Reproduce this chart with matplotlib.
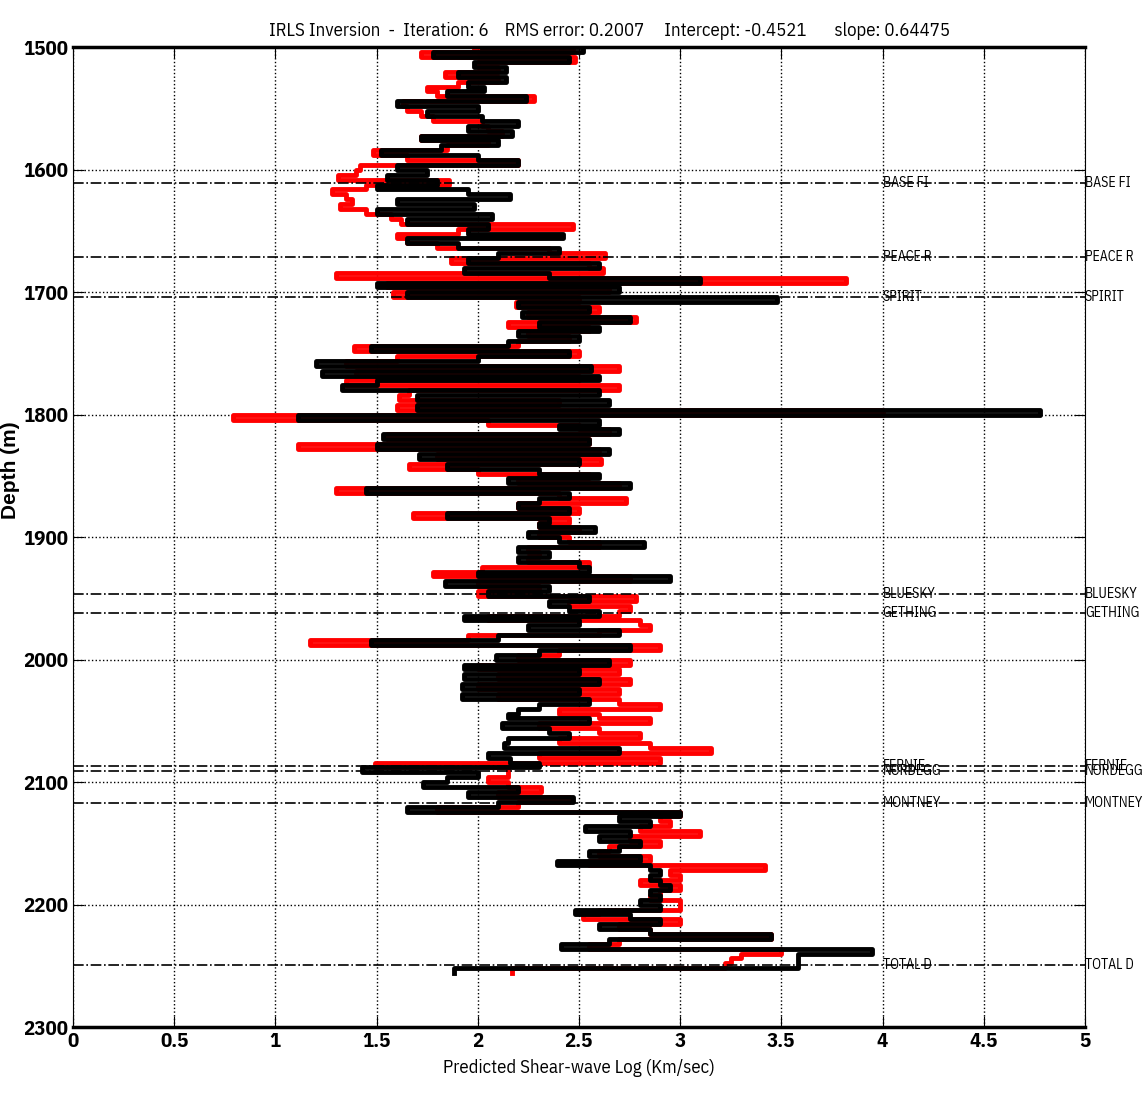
import matplotlib.pyplot as plt
import numpy as np

plt.rcParams['font.family'] = ['IBM Plex Sans Condensed', 'DejaVu Sans']

# Depth sampling (m), one sample every 4 m from 1500 to 2256
depth = np.arange(1500, 2257, 4)

# Black log (Km/sec)
vs_black = [
    2.02, 2.52, 1.78, 2.45, 1.98, 2.14, 1.90, 2.14, 1.95, 2.03,
    1.85, 2.24, 1.60, 2.00, 1.75, 2.02, 2.20, 1.95, 2.17, 1.72,
    2.10, 1.82, 1.52, 2.00, 2.20, 1.60, 1.75, 1.55, 1.80, 1.50,
    1.95, 2.16, 1.60, 1.98, 1.50, 2.07, 1.65, 2.05, 1.95, 2.42,
    1.65, 1.90, 2.40, 2.10, 1.95, 2.60, 1.93, 2.35, 3.10, 1.50,
    2.70, 1.65, 3.48, 2.20, 2.55, 2.22, 2.75, 2.30, 2.60, 2.20,
    2.50, 2.15, 1.47, 2.45, 2.00, 1.20, 2.56, 1.23, 2.60, 1.50,
    1.33, 2.60, 1.70, 2.65, 1.70, 4.78, 1.11, 2.60, 2.40, 2.70,
    1.53, 2.55, 1.50, 2.65, 1.71, 2.50, 1.85, 2.30, 2.60, 2.15,
    2.75, 1.45, 2.45, 2.30, 2.20, 2.45, 1.85, 2.35, 2.30, 2.58,
    2.25, 2.40, 2.82, 2.20, 2.35, 2.20, 2.50, 2.55, 2.00, 2.95,
    1.84, 2.35, 2.05, 2.55, 2.35, 2.45, 2.60, 1.93, 2.50, 2.25,
    2.70, 2.10, 1.47, 2.75, 2.30, 2.09, 2.65, 1.93, 2.50, 1.93,
    2.60, 1.92, 2.50, 1.92, 2.55, 2.30, 2.20, 2.15, 2.55, 2.12,
    2.35, 2.45, 2.15, 2.13, 2.70, 2.05, 2.16, 2.30, 1.43, 2.00,
    1.85, 1.73, 2.20, 1.95, 2.47, 2.10, 1.65, 3.00, 2.70, 2.85,
    2.53, 2.75, 2.60, 2.80, 2.70, 2.55, 2.80, 2.39, 2.85, 2.90,
    2.85, 2.90, 2.95, 2.85, 2.90, 2.80, 2.90, 2.48, 2.75, 2.90,
    2.60, 2.85, 3.45, 2.65, 2.41, 3.95, 3.58, 3.58, 3.58, 1.88,
]

# Red log (Km/sec)
vs_red = [
    1.98, 2.47, 1.72, 2.48, 2.00, 2.10, 1.84, 2.10, 1.90, 1.75,
    1.80, 2.28, 1.63, 1.65, 1.72, 1.78, 2.02, 2.05, 2.12, 1.72,
    2.05, 1.85, 1.48, 1.65, 2.20, 1.42, 1.40, 1.31, 1.86, 1.45,
    1.28, 1.35, 1.38, 1.32, 1.45, 1.57, 1.62, 2.47, 1.90, 1.60,
    1.65, 1.80, 2.35, 2.63, 1.87, 2.55, 2.62, 1.30, 3.82, 1.55,
    2.65, 1.58, 2.50, 2.19, 2.60, 2.25, 2.78, 2.15, 2.55, 2.25,
    2.45, 2.20, 1.39, 2.50, 1.60, 1.35, 2.70, 1.40, 2.50, 1.35,
    2.70, 1.66, 1.61, 2.40, 1.60, 4.00, 0.79, 2.05, 2.50, 2.65,
    1.55, 2.55, 1.11, 2.60, 1.80, 2.61, 1.66, 2.00, 2.55, 2.20,
    2.70, 1.30, 2.40, 2.73, 2.20, 2.50, 1.68, 2.45, 2.30, 2.50,
    2.30, 2.45, 2.60, 2.25, 2.30, 2.25, 2.55, 2.02, 1.78, 2.75,
    2.00, 2.30, 2.00, 2.78, 2.45, 2.75, 2.70, 2.05, 2.80, 2.85,
    2.60, 1.95, 1.17, 2.90, 2.40, 2.20, 2.75, 2.00, 2.70, 2.10,
    2.75, 2.00, 2.70, 2.10, 2.70, 2.90, 2.40, 2.60, 2.85, 2.30,
    2.60, 2.80, 2.40, 2.85, 3.15, 2.30, 2.90, 1.49, 2.15, 2.15,
    2.05, 2.15, 2.31, 2.10, 2.45, 2.20, 1.80, 3.00, 2.90, 2.95,
    2.80, 3.10, 2.75, 2.90, 2.65, 2.60, 2.85, 2.55, 3.42, 2.95,
    3.00, 2.80, 3.00, 2.90, 2.85, 3.00, 3.00, 2.60, 2.52, 3.00,
    2.70, 2.85, 3.45, 2.70, 2.55, 3.50, 3.30, 3.25, 3.22, 2.17,
]

# Formation tops
tops_names = ['BASE FI', 'PEACE R', 'SPIRIT', 'BLUESKY', 'GETHING',
              'FERNIE', 'NORDEGG', 'MONTNEY', 'TOTAL D']
tops_depth = [1611, 1671, 1704, 1946, 1962, 2087, 2091, 2117, 2249]

fig = plt.figure(figsize=(11.43, 11.02), dpi=100)
ax = fig.add_axes([0.0639, 0.068, 0.8853, 0.889])

ax.plot(vs_red, depth, color='red', linewidth=3.5, drawstyle='steps-post')
ax.plot(vs_black, depth, color='black', linewidth=3.5, drawstyle='steps-post')

for name, d in zip(tops_names, tops_depth):
    ax.plot([0, 5], [d, d], color='black', linestyle='-.', linewidth=1.2)
    ax.text(4.0, d, name, fontsize=10, va='center', ha='left')
    ax.text(5.0, d, name, fontsize=10, va='center', ha='left', clip_on=False)

ax.set_xlim(0, 5)
ax.set_ylim(2300, 1500)
ax.set_xticks(np.arange(0, 5.01, 0.5))
ax.set_xticklabels(['0', '0.5', '1', '1.5', '2', '2.5', '3', '3.5', '4', '4.5', '5'])
ax.set_yticks(np.arange(1500, 2301, 100))
ax.tick_params(direction='in', length=8, labelsize=15, top=True, right=True)
for lab in ax.get_yticklabels() + ax.get_xticklabels():
    lab.set_fontweight('bold')
ax.grid(True, linestyle=':', color='black', linewidth=1.0)

ax.spines['top'].set_linewidth(2.5)
ax.spines['bottom'].set_linewidth(2.5)

ax.set_xlabel('Predicted Shear-wave Log (Km/sec)', fontsize=13.5, labelpad=6)
ax.set_ylabel('Depth (m)', fontsize=15, fontweight='bold',
              family='Liberation Sans', labelpad=4)
ax.yaxis.set_label_coords(-0.052, 0.568)
ax.set_title('IRLS Inversion  -  Iteration: 6    RMS error: 0.2007     '
             'Intercept: -0.4521       slope: 0.64475',
             fontsize=13.5, pad=8, x=0.53)

plt.savefig('out.png', dpi=100)
